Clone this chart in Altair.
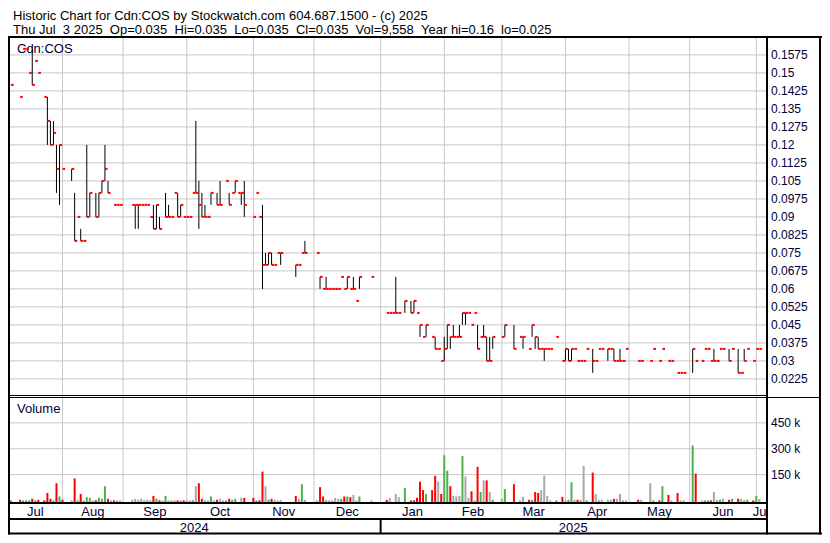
import altair as alt
import pandas as pd

# ---------------- data (trading-day index) ----------------
close_day = [1,4,5,6,7,8,9,10,12,13,14,15,16,17,18,21,22,23,24,25,26,27,29,30,31,32,33,35,36,37,
             41,42,43,44,45,46,47,48,49,50,52,53,54,55,56,57,58,
             59,60,61,62,63,64,65,66,67,69,70,72,73,74,75,76,77,78,
             81,82,83,84,85,86,87,88,89,90,95,96,97,98,
             102,103,104,105,106,107,108,109,110,111,112,113,114,115,116,120,
             125,126,127,128,129,131,133,134,135,136,137,138,140,141,142,143,
             144,145,146,147,148,149,150,151,152,153,154,155,156,157,158,159,160,
             163,164,167,169,170,172,173,174,175,176,177,178,179,181,183,
             184,185,186,187,188,189,190,191,193,194,195,196,198,199,200,201,202,203,204,
             208,209,212,213,215,216,218,219,221,222,223,
             226,227,229,230,231,232,233,234,235,236,238,239,241,242,243,244,246,247,248]
close_px = [0.145,0.14,0.16,0.16,0.15,0.145,0.155,0.15,0.14,0.13,0.12,0.125,0.11,0.12,0.11,0.11,0.08,0.09,0.08,0.08,0.09,0.10,0.09,0.10,0.105,0.11,0.10,0.095,0.095,0.095,
            0.095,0.095,0.095,0.095,0.095,0.095,0.09,0.085,0.095,0.085,0.09,0.09,0.09,0.10,0.09,0.095,0.09,
            0.09,0.09,0.10,0.10,0.095,0.09,0.09,0.09,0.10,0.095,0.095,0.105,0.095,0.10,0.105,0.10,0.10,0.095,
            0.09,0.10,0.09,0.07,0.07,0.075,0.07,0.07,0.075,0.075,0.07,0.07,0.075,0.075,
            0.075,0.065,0.06,0.06,0.06,0.06,0.06,0.06,0.065,0.06,0.065,0.06,0.06,0.055,0.065,0.065,
            0.05,0.05,0.05,0.05,0.05,0.055,0.05,0.055,0.05,0.045,0.04,0.045,0.04,0.035,0.035,0.03,
            0.035,0.045,0.04,0.04,0.04,0.04,0.05,0.05,0.05,0.045,0.05,0.035,0.04,0.04,0.03,0.03,0.04,
            0.04,0.045,0.035,0.04,0.04,0.035,0.045,0.04,0.035,0.035,0.035,0.035,0.035,0.04,0.03,
            0.035,0.03,0.035,0.035,0.03,0.03,0.03,0.035,0.03,0.03,0.035,0.035,0.035,0.035,0.03,0.03,0.03,0.03,0.035,
            0.03,0.03,0.03,0.035,0.03,0.035,0.03,0.03,0.025,0.025,0.025,
            0.035,0.03,0.03,0.035,0.035,0.03,0.03,0.03,0.035,0.035,0.03,0.035,0.025,0.025,0.03,0.035,0.03,0.035,0.035]

range_day = [8,13,14,15,16,17,21,22,24,26,27,29,30,31,32,33,42,43,48,49,50,52,53,56,57,
             62,63,64,65,67,69,70,73,75,77,78,84,85,86,87,90,95,98,103,105,112,114,116,
             128,131,133,134,136,138,141,144,145,146,147,149,150,151,155,157,158,159,160,
             164,167,170,173,174,175,177,184,185,186,193,198,200,202,226,233,238,241,243]
range_hi = [0.16,0.14,0.13,0.13,0.12,0.12,0.11,0.10,0.085,0.12,0.10,0.10,0.10,0.105,0.12,0.105,0.095,0.095,0.095,0.095,0.09,0.10,0.095,0.10,0.095,
            0.13,0.105,0.10,0.095,0.10,0.10,0.105,0.10,0.105,0.10,0.105,0.095,0.075,0.075,0.075,0.075,0.07,0.08,0.065,0.065,0.065,0.065,0.065,
            0.065,0.055,0.055,0.055,0.045,0.045,0.04,0.04,0.045,0.04,0.045,0.045,0.05,0.05,0.045,0.045,0.04,0.04,0.04,
            0.045,0.045,0.04,0.045,0.04,0.04,0.035,0.035,0.035,0.035,0.035,0.035,0.035,0.035,0.035,0.035,0.035,0.035,0.035]
range_lo = [0.145,0.12,0.12,0.12,0.10,0.095,0.105,0.08,0.08,0.09,0.09,0.09,0.09,0.10,0.105,0.10,0.085,0.085,0.085,0.085,0.085,0.09,0.09,0.09,0.09,
            0.10,0.085,0.09,0.09,0.095,0.095,0.095,0.095,0.10,0.095,0.09,0.06,0.07,0.07,0.07,0.07,0.065,0.075,0.06,0.06,0.06,0.06,0.06,
            0.05,0.05,0.05,0.05,0.04,0.04,0.035,0.03,0.035,0.035,0.04,0.04,0.045,0.045,0.035,0.04,0.03,0.03,0.035,
            0.04,0.035,0.035,0.04,0.035,0.035,0.03,0.03,0.03,0.03,0.025,0.03,0.03,0.03,0.025,0.03,0.03,0.025,0.03]

vol_day = [1,4,5,6,7,8,9,10,12,13,14,15,16,17,18,21,22,23,24,25,26,27,28,29,30,31,32,33,34,35,36,37,
           41,42,43,44,45,46,47,48,49,50,51,52,53,54,55,56,57,58,
           59,60,61,62,63,64,65,66,67,68,69,70,71,72,73,74,75,77,78,
           81,82,83,84,85,86,87,88,89,90,95,96,97,98,
           102,103,104,105,106,107,108,109,110,111,112,113,114,115,116,120,
           125,126,128,129,131,133,134,135,136,137,138,140,141,142,143,
           144,145,146,147,148,149,150,151,152,153,154,155,156,157,158,159,160,
           163,164,167,169,170,172,173,174,175,176,177,178,179,181,183,
           184,185,186,187,188,189,190,191,193,194,195,196,198,199,200,201,202,203,204,
           208,209,212,213,215,216,218,219,221,222,223,
           226,227,229,230,231,232,233,234,235,236,238,239,241,242,243,244,246,247,248]
vol_shares = [300,3900,300,300,700,9600,700,3900,700,43300,9600,700,99600,23100,3900,700,127700,3900,37700,700,19100,15200,300,700,15200,9600,82700,9600,300,700,300,300,
              3900,9600,3900,9600,700,3900,700,26400,9600,700,300,26400,700,700,700,700,300,700,
              700,700,700,82700,99600,9600,700,700,23100,300,3900,9600,300,300,9600,3900,9600,15200,15200,
              15200,700,700,167100,82700,3900,9600,3900,700,3900,26400,9600,94000,3900,
              300,77100,23100,3900,700,700,15200,9600,9600,23100,23100,19100,32100,700,23100,300,
              3900,15200,37700,19100,71500,300,700,15200,109100,60200,37700,60200,142900,109100,37700,
              262700,172700,82700,26400,23100,26400,257100,139000,15200,52900,300,195200,49000,116500,116500,49000,3900,
              9600,65800,94000,300,20800,3900,3900,49000,43300,60200,144600,26400,300,300,20800,
              300,3900,105200,3900,3900,3900,200800,300,161500,37700,3900,3900,3900,3900,9600,9600,37700,300,300,
              3900,3900,99600,300,300,82700,32100,300,43300,300,300,
              319000,155800,300,300,300,300,49000,3900,3900,9600,3900,9600,9600,9600,300,3900,300,26400,9558]
vol_dir = ["u","d","u","u","u","d","u","d","d","d","d","u","d","u","d","n","d","n","d","n","u","u","n","d","u","u","u","d","n","d","n","n",
           "n","n","n","n","n","n","n","d","u","d","n","u","n","n","n","d","n","d",
           "n","n","u","n","d","d","n","n","u","n","d","n","n","u","d","u","u","n","d",
           "d","u","d","d","n","u","d","n","n","n","d","n","u","n",
           "n","d","d","n","n","n","n","n","u","d","u","d","n","n","u","n",
           "d","n","n","n","u","d","d","d","d","d","u","d","d","n","d",
           "u","u","d","n","n","n","u","n","n","d","n","d","u","n","d","n","u",
           "n","u","d","n","n","d","u","d","d","n","n","n","n","u","d",
           "n","u","u","n","d","n","n","u","d","n","n","n","n","n","d","n","n","n","n",
           "d","n","n","u","d","u","d","n","d","n","n",
           "u","d","n","u","u","d","n","n","u","n","d","u","d","n","u","u","d","u","n"]

month_names = ["Jul","Aug","Sep","Oct","Nov","Dec","Jan","Feb","Mar","Apr","May","Jun","Jul"]
month_start = [18,38,59,81,101,123,144,163,184,205,225,247]
years = ["2024","2025"]
price_ticks = [0.0225,0.03,0.0375,0.045,0.0525,0.06,0.0675,0.075,0.0825,0.09,0.0975,
               0.105,0.1125,0.12,0.1275,0.135,0.1425,0.15,0.1575]
price_labels = ["0.0225","0.03","0.0375","0.045","0.0525","0.06","0.0675","0.075","0.0825","0.09","0.0975",
                "0.105","0.1125","0.12","0.1275","0.135","0.1425","0.15","0.1575"]
vol_ticks = [150000,300000,450000]
vol_labels = ["150 k","300 k","450 k"]

title1 = "Historic Chart for Cdn:COS by Stockwatch.com 604.687.1500 - (c) 2025"
title2 = "Thu Jul  3 2025  Op=0.035  Hi=0.035  Lo=0.035  Cl=0.035  Vol=9,558  Year hi=0.16  lo=0.025".replace("  ", " \u00a0")

# ---------------- layout ----------------
W, H = 814, 527
PW = 758
X_END = 250.2
FONT = "Liberation Sans"
GRID = "#c8c8c8"

xs = alt.Scale(domain=[0, X_END], range=[0, PW], nice=False, zero=False)
ps = alt.Scale(domain=[0.01579, 0.16454], range=[387, 30], nice=False, zero=False)
vs = alt.Scale(domain=[-9000, 600000], range=[494, 389], nice=False, zero=False)

closes = pd.DataFrame({"day": close_day, "close": close_px})
closes["day2"] = closes["day"] + 0.87
ranges = pd.DataFrame({"day": range_day, "hi": range_hi, "lo": range_lo})
vols = pd.DataFrame({"day": vol_day, "vol": vol_shares, "dir": vol_dir})
pt = pd.DataFrame({"p": price_ticks, "label": price_labels})
vt = pd.DataFrame({"v": vol_ticks, "label": vol_labels})
bounds = [0] + month_start + [X_END]
months = pd.DataFrame({"name": month_names,
                       "mid": [(bounds[i] + bounds[i + 1]) / 2 for i in range(len(month_names))]})
mstart = pd.DataFrame({"day": month_start})
ybounds = [0, month_start[5], X_END]
yrs = pd.DataFrame({"name": years, "mid": [(ybounds[i] + ybounds[i + 1]) / 2 for i in range(2)]})
one = pd.DataFrame({"k": [0]})

X = lambda f: alt.X(f, type="quantitative", scale=xs, axis=None)

# vertical month grid
vgrid = alt.Chart(mstart).mark_rule(color=GRID, strokeWidth=1).encode(
    x=X("day"), y=alt.value(30), y2=alt.value(494))

# price panel
pgrid = alt.Chart(pt).mark_rule(color=GRID, strokeWidth=1).encode(
    y=alt.Y("p:Q", scale=ps, axis=None), x=alt.value(0), x2=alt.value(PW))
plab = alt.Chart(pt).mark_text(align="left", baseline="middle", font=FONT, fontSize=12, color="#000033").encode(
    y=alt.Y("p:Q", scale=ps, axis=None), x=alt.value(763), text="label:N")
sym = alt.Chart(one).mark_text(align="left", baseline="alphabetic", font=FONT, fontSize=13, color="#000033").encode(
    x=alt.value(9), y=alt.value(45), text=alt.value("Cdn:COS"))
hl = alt.Chart(ranges).mark_rule(color="black", strokeWidth=1).encode(
    x=X("day"), y=alt.Y("hi:Q", scale=ps, axis=None), y2="lo:Q")
cl = alt.Chart(closes).mark_rule(color="#ff0000", strokeWidth=2).encode(
    x=X("day"), x2="day2:Q", y=alt.Y("close:Q", scale=ps, axis=None))
price_panel = alt.layer(pgrid, plab, sym, hl, cl)

# volume panel
vgrid_h = alt.Chart(vt).mark_rule(color=GRID, strokeWidth=1).encode(
    y=alt.Y("v:Q", scale=vs, axis=None), x=alt.value(0), x2=alt.value(PW))
vlab = alt.Chart(vt).mark_text(align="left", baseline="middle", font=FONT, fontSize=12, color="#000033").encode(
    y=alt.Y("v:Q", scale=vs, axis=None), x=alt.value(763), text="label:N")
vbars = alt.Chart(vols).mark_rule(strokeWidth=2).encode(
    x=X("day"), y=alt.Y("vol:Q", scale=vs, axis=None), y2=alt.value(494),
    color=alt.Color("dir:N", scale=alt.Scale(domain=["d", "u", "n"],
                                             range=["#ff0000", "#4cb04c", "#a8a8a8"]), legend=None))
vname = alt.Chart(one).mark_text(align="left", baseline="alphabetic", font=FONT, fontSize=13, color="#000033").encode(
    x=alt.value(9), y=alt.value(405), text=alt.value("Volume"))
vol_panel = alt.layer(vgrid_h, vlab, vname, vbars)

# titles
t1 = alt.Chart(one).mark_text(align="left", baseline="alphabetic", font=FONT, fontSize=13, color="black").encode(
    x=alt.value(5), y=alt.value(12), text=alt.value(title1))
t2 = alt.Chart(one).mark_text(align="left", baseline="alphabetic", font=FONT, fontSize=13, color="black").encode(
    x=alt.value(5), y=alt.value(26), text=alt.value(title2))

# time labels
mlab = alt.Chart(months).mark_text(align="center", baseline="alphabetic", font=FONT, fontSize=13, color="#000033").encode(
    x=X("mid"), y=alt.value(507.5), text="name:N")
ylab = alt.Chart(yrs).mark_text(align="center", baseline="alphabetic", font=FONT, fontSize=13, color="#000033").encode(
    x=X("mid"), y=alt.value(523.5), text="name:N")
mask = alt.Chart(one).mark_rect(color="white").encode(
    x=alt.value(760), x2=alt.value(811), y=alt.value(496), y2=alt.value(510))
ydiv = alt.Chart(pd.DataFrame({"day": [month_start[5]]})).mark_rule(color="black", strokeWidth=2).encode(
    x=X("day"), y=alt.value(511), y2=alt.value(526))

# frame lines
def hline(y, x1, x2, w):
    return alt.Chart(one).mark_rule(color="black", strokeWidth=w).encode(
        x=alt.value(x1), x2=alt.value(x2), y=alt.value(y))

def vline(x, y1, y2, w):
    return alt.Chart(one).mark_rule(color="black", strokeWidth=w).encode(
        x=alt.value(x), y=alt.value(y1), y2=alt.value(y2))

frame = [
    hline(29, 0, W, 2),
    hline(387.5, 0, PW, 1),
    hline(389.5, 0, 812, 1),
    hline(495, 0, PW + 1, 2),
    hline(511, 0, PW + 1, 2),
    hline(525.5, 0, W, 2),
    vline(1, 28, 526.5, 2),
    vline(PW + 1, 28, 526.5, 2),
    vline(812, 28, 526.5, 2),
]

chart = alt.layer(vgrid, price_panel, vol_panel, t1, t2, mlab, ylab, mask, ydiv, *frame).resolve_scale(
    y="independent").properties(
    width=W, height=H, padding={"left": 0, "top": 0, "right": 0, "bottom": 0},
    autosize=alt.AutoSizeParams(type="none"), background="white"
).configure_view(strokeWidth=0)

chart.save("out.html", embed_options={"renderer": "svg", "actions": False})
